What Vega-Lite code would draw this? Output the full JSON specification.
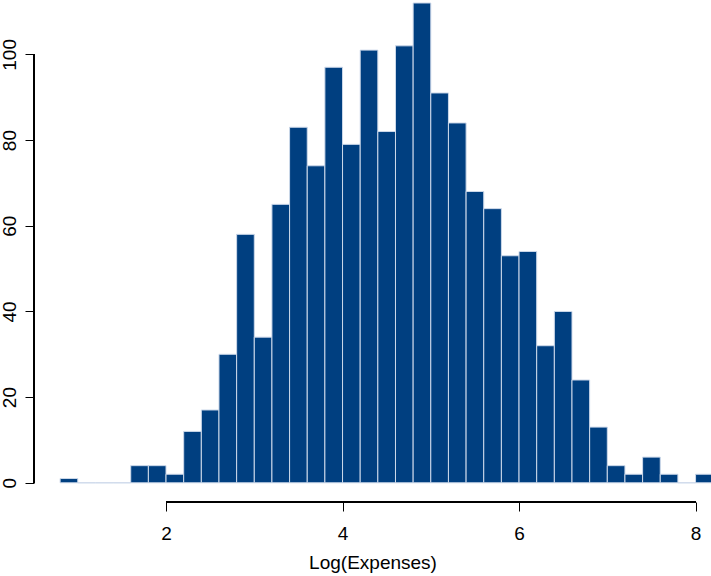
{
  "$schema": "https://vega.github.io/schema/vega-lite/v6.json",
  "autosize": "none",
  "width": 677,
  "height": 502,
  "padding": {"left": 34, "top": 0, "right": 0, "bottom": 74},
  "background": "white",
  "config": {
    "view": {"stroke": null},
    "font": "Liberation Sans",
    "axis": {
      "labelFont": "Liberation Sans",
      "titleFont": "Liberation Sans",
      "labelFontSize": 19,
      "titleFontSize": 19,
      "titleFontWeight": "normal",
      "labelColor": "black",
      "titleColor": "black",
      "tickColor": "black",
      "tickSize": 9,
      "tickWidth": 1,
      "grid": false,
      "domain": false
    }
  },
  "data": {
    "values": [
      {"bin_start": 0.8, "bin_end": 1.0, "count": 1},
      {"bin_start": 1.0, "bin_end": 1.2, "count": 0},
      {"bin_start": 1.2, "bin_end": 1.4, "count": 0},
      {"bin_start": 1.4, "bin_end": 1.6, "count": 0},
      {"bin_start": 1.6, "bin_end": 1.8, "count": 4},
      {"bin_start": 1.8, "bin_end": 2.0, "count": 4},
      {"bin_start": 2.0, "bin_end": 2.2, "count": 2},
      {"bin_start": 2.2, "bin_end": 2.4, "count": 12},
      {"bin_start": 2.4, "bin_end": 2.6, "count": 17},
      {"bin_start": 2.6, "bin_end": 2.8, "count": 30},
      {"bin_start": 2.8, "bin_end": 3.0, "count": 58},
      {"bin_start": 3.0, "bin_end": 3.2, "count": 34},
      {"bin_start": 3.2, "bin_end": 3.4, "count": 65},
      {"bin_start": 3.4, "bin_end": 3.6, "count": 83},
      {"bin_start": 3.6, "bin_end": 3.8, "count": 74},
      {"bin_start": 3.8, "bin_end": 4.0, "count": 97},
      {"bin_start": 4.0, "bin_end": 4.2, "count": 79},
      {"bin_start": 4.2, "bin_end": 4.4, "count": 101},
      {"bin_start": 4.4, "bin_end": 4.6, "count": 82},
      {"bin_start": 4.6, "bin_end": 4.8, "count": 102},
      {"bin_start": 4.8, "bin_end": 5.0, "count": 112},
      {"bin_start": 5.0, "bin_end": 5.2, "count": 91},
      {"bin_start": 5.2, "bin_end": 5.4, "count": 84},
      {"bin_start": 5.4, "bin_end": 5.6, "count": 68},
      {"bin_start": 5.6, "bin_end": 5.8, "count": 64},
      {"bin_start": 5.8, "bin_end": 6.0, "count": 53},
      {"bin_start": 6.0, "bin_end": 6.2, "count": 54},
      {"bin_start": 6.2, "bin_end": 6.4, "count": 32},
      {"bin_start": 6.4, "bin_end": 6.6, "count": 40},
      {"bin_start": 6.6, "bin_end": 6.8, "count": 24},
      {"bin_start": 6.8, "bin_end": 7.0, "count": 13},
      {"bin_start": 7.0, "bin_end": 7.2, "count": 4},
      {"bin_start": 7.2, "bin_end": 7.4, "count": 2},
      {"bin_start": 7.4, "bin_end": 7.6, "count": 6},
      {"bin_start": 7.6, "bin_end": 7.8, "count": 2},
      {"bin_start": 7.8, "bin_end": 8.0, "count": 0},
      {"bin_start": 8.0, "bin_end": 8.2, "count": 2}
    ]
  },
  "layer": [
    {
      "mark": {"type": "rect", "fill": "#003f80", "stroke": "#cdd9ea", "strokeWidth": 1, "clip": true},
      "encoding": {
        "x": {
          "field": "bin_start",
          "type": "quantitative",
          "scale": {"domain": [0.504, 8.175], "nice": false, "zero": false},
          "axis": {"values": [2, 4, 6, 8], "format": "d", "labelPadding": 13, "title": "Log(Expenses)", "titlePadding": 10}
        },
        "x2": {"field": "bin_end"},
        "y": {
          "field": "count",
          "type": "quantitative",
          "scale": {"domain": [-4.48, 112.7], "nice": false, "zero": false},
          "axis": {"values": [0, 20, 40, 60, 80, 100], "format": "d", "labelAngle": 270, "labelPadding": 6, "title": null}
        },
        "y2": {"datum": 0}
      }
    },
    {
      "mark": {"type": "rule", "color": "black", "strokeWidth": 1},
      "encoding": {
        "x": {"datum": 2, "type": "quantitative"},
        "x2": {"datum": 8},
        "y": {"datum": -4.48, "type": "quantitative"}
      }
    },
    {
      "mark": {"type": "rule", "color": "black", "strokeWidth": 1},
      "encoding": {
        "x": {"datum": 0.504, "type": "quantitative"},
        "y": {"datum": 0, "type": "quantitative"},
        "y2": {"datum": 100}
      }
    }
  ]
}
